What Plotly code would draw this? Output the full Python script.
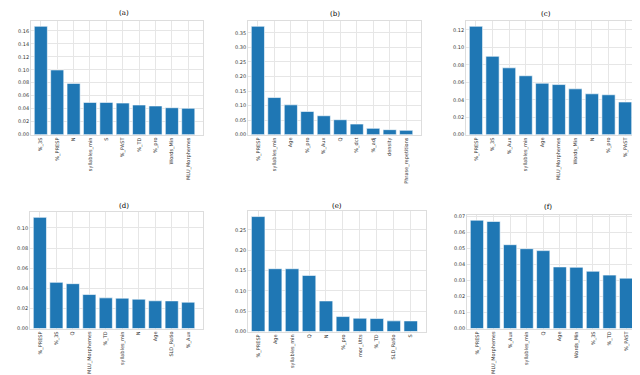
import plotly.graph_objects as go

# feature importances per model
feat_a = ["%_3S", "%_PRESP", "N", "syllables_min", "S", "%_PAST", "%_TD", "%_pro", "Words_Min", "MLU_Morphemes"]
imp_a = [0.167, 0.0997, 0.079, 0.0497, 0.0497, 0.0487, 0.0457, 0.0442, 0.0415, 0.0406]

feat_b = ["%_PRESP", "syllables_min", "Age", "%_pro", "%_Aux", "Q", "%_dct", "%_adj", "density", "Phrase_repetitions"]
imp_b = [0.3725, 0.1276, 0.1025, 0.0797, 0.0649, 0.0513, 0.0364, 0.0216, 0.0171, 0.0148]

feat_c = ["%_PRESP", "%_3S", "%_Aux", "syllables_min", "Age", "MLU_Morphemes", "Words_Min", "N", "%_pro", "%_PAST"]
imp_c = [0.1242, 0.0898, 0.0766, 0.0675, 0.0589, 0.0574, 0.0525, 0.0468, 0.0457, 0.0374]

feat_d = ["%_PRESP", "%_3S", "Q", "MLU_Morphemes", "%_TD", "syllables_min", "N", "Age", "SLD_Ratio", "%_Aux"]
imp_d = [0.1105, 0.0459, 0.0446, 0.0338, 0.0305, 0.0302, 0.0292, 0.0276, 0.0275, 0.0262]

feat_e = ["%_PRESP", "Age", "syllables_min", "Q", "N", "%_pro", "mor_Utts", "%_TD", "SLD_Ratio", "S"]
imp_e = [0.2827, 0.1545, 0.1544, 0.138, 0.0752, 0.0368, 0.0327, 0.0319, 0.0262, 0.0261]

feat_f = ["%_PRESP", "MLU_Morphemes", "%_Aux", "syllables_min", "Q", "Age", "Words_Min", "%_3S", "%_TD", "%_PAST"]
imp_f = [0.0677, 0.0669, 0.0524, 0.0499, 0.0487, 0.0385, 0.0383, 0.0358, 0.0334, 0.0315]

titles = ["(a)", "(b)", "(c)", "(d)", "(e)", "(f)"]

W, H = 640, 375
# pixel boxes (left, right, top, bottom) of each plot area
boxes = [
    (23, 195, 12, 127), (240, 413, 12, 127), (458, 632, 12, 127),
    (22, 195, 205, 323), (240, 418, 204, 326), (459, 633, 208, 323),
]
title_y = [4, 5, 5, 199, 199, 200]
dticks = [0.02, 0.05, 0.02, 0.02, 0.05, 0.01]

panels = [(feat_a, imp_a), (feat_b, imp_b), (feat_c, imp_c),
          (feat_d, imp_d), (feat_e, imp_e), (feat_f, imp_f)]

fig = go.Figure()
tick_font = dict(family="DejaVu Sans", size=5, color="#333333")

for i, (feats, vals) in enumerate(panels):
    n = i + 1
    xa = "x" if n == 1 else f"x{n}"
    ya = "y" if n == 1 else f"y{n}"
    fig.add_trace(go.Bar(
        x=list(range(len(feats))), y=vals, xaxis=xa, yaxis=ya,
        width=0.8, marker=dict(color="#1f77b4", line=dict(color="white", width=0.6)),
        showlegend=False,
    ))
    l, r, t, b = boxes[i]
    xkey = "xaxis" if n == 1 else f"xaxis{n}"
    ykey = "yaxis" if n == 1 else f"yaxis{n}"
    fig.update_layout(**{
        xkey: dict(
            domain=[l / W, r / W], anchor=ya, range=[-0.6, 9.9],
            tickmode="array", tickvals=list(range(len(feats))), ticktext=feats,
            tickangle=-90, tickfont=tick_font, showgrid=True, gridcolor="#e6e6e6",
            gridwidth=0.8, showline=True, mirror=True, linecolor="#dddddd",
            linewidth=0.8, zeroline=False, ticks="", fixedrange=True,
        ),
        ykey: dict(
            domain=[1 - b / H, 1 - t / H], anchor=xa, range=[0, max(vals) * 1.05],
            dtick=dticks[i], tickformat=".2f", tickfont=tick_font, showgrid=True,
            gridcolor="#e6e6e6", gridwidth=0.8, showline=True, mirror=True,
            linecolor="#dddddd", linewidth=0.8, zeroline=False, ticks="",
        ),
    })
    fig.add_annotation(
        text=titles[i], x=(l + r) / 2 / W, y=1 - title_y[i] / H, xref="paper",
        yref="paper", showarrow=False, yanchor="middle",
        font=dict(family="DejaVu Serif", size=7, color="#000000"),
    )

fig.update_layout(
    width=W, height=H, margin=dict(l=0, r=0, t=0, b=0),
    paper_bgcolor="white", plot_bgcolor="white", bargap=0.2,
)

fig.write_html("out.html")
